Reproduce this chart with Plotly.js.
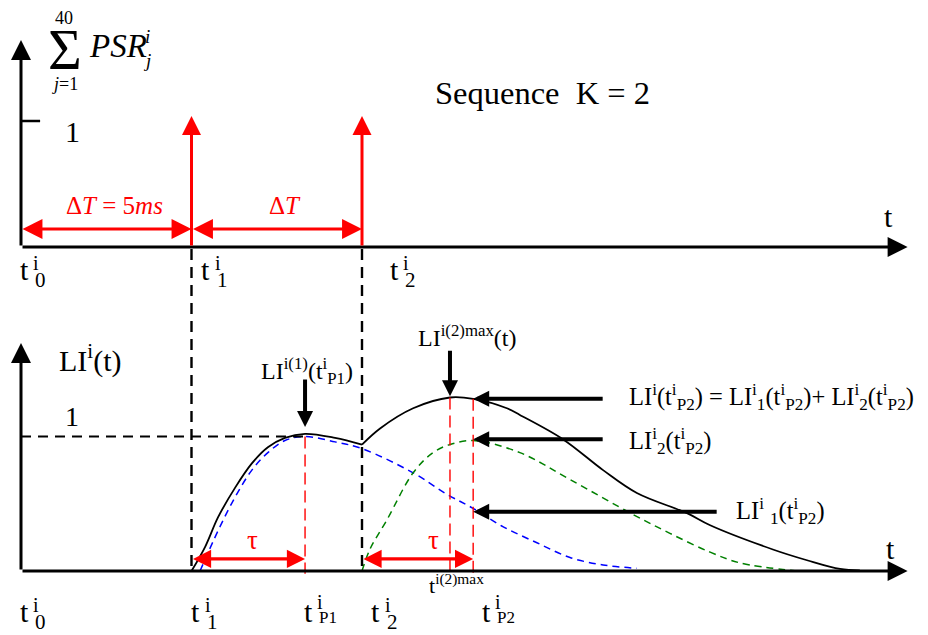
<!DOCTYPE html>
<html><head><meta charset="utf-8">
<script src="https://cdn.plot.ly/plotly-3.0.1.min.js"></script>
<style>html,body{margin:0;padding:0;background:#fff}#chart{width:928px;height:635px}</style>
</head><body><div id="chart"></div>
<script>
// ---- data (time in ms) ----
const startTime = 0;                 // t0
const axisEndTime = 26;              // end of the time axes
const spikeTimes = [5, 10];          // t1, t2
const spikeValues = [1, 1];          // sum of PSR at each spike
const deltaSpans = [[0, 5], [5, 10]];            // ΔT arrows
const markerTimes = [8.33, 12.58, 13.26];        // tP1, t(2)max, tP2
const markerTops = [1.0, 1.29, 1.28];            // LI value at the red guides
const tauSpans = [[5, 8.33], [10, 13.26]];       // τ arrows

// LI(t) total (black)
const tSum  = [5.00,5.40,5.78,6.28,6.77,7.24,7.74,8.33,9.21,10.0,10.53,11.50,12.58,13.26,14.25,14.63,15.89,17.07,18.06,19.53,20.21,22.05,23.05,24.02,24.60];
const liSum = [0,0.18,0.40,0.62,0.80,0.92,0.99,1.02,0.99,0.94,1.06,1.21,1.29,1.28,1.21,1.16,0.98,0.75,0.58,0.43,0.34,0.16,0.08,0.015,0.005];
// LI_1(t) (blue dashed)
const tLI1 = [5.25,5.78,6.28,6.77,7.24,7.74,8.33,9.21,10.0,11.50,12.49,13.23,14.13,15.13,16.10,17.07,18.06];
const li1  = [0,0.30,0.55,0.75,0.88,0.97,1.00,0.96,0.91,0.73,0.57,0.47,0.33,0.21,0.10,0.045,0.02];
// LI_2(t) (green dashed)
const tLI2 = [10.0,10.23,10.73,11.50,12.08,12.58,13.26,14.63,16.10,17.95,19.03,20.21,21.09,22.76];
const li2  = [0,0.16,0.38,0.73,0.88,0.94,0.97,0.88,0.68,0.42,0.28,0.14,0.06,0];
// pointer arrow targets at tP2
const pointerValues = [1.28, 0.98, 0.44];   // LI, LI2, LI1 at tP2

// ---- helpers ----
const FONT = 'Liberation Serif';
const W = 928, H = 635;
const PX = p => p / W, PY = p => 1 - p / H;
function txt(text, x, y, size, opt) {
  opt = opt || {};
  return Object.assign({
    text: text, x: PX(x), y: PY(y), xref: 'paper', yref: 'paper',
    xanchor: 'center', yanchor: 'middle', showarrow: false,
    font: {family: FONT, size: size, color: opt.color || '#000'}
  }, opt.extra || {});
}
function arrow(x, y, ax, ay, yref, color, width, size, both, pixel) {
  return {
    x: x, y: y, ax: ax, ay: ay, xref: 'x', yref: yref,
    axref: pixel ? 'pixel' : 'x', ayref: pixel ? 'pixel' : yref,
    text: '', showarrow: true, arrowhead: 2, arrowsize: size, arrowwidth: width,
    arrowcolor: color, standoff: 0, startstandoff: 0,
    arrowside: both ? 'end+start' : 'end', startarrowhead: 2, startarrowsize: size
  };
}
function tLabel(tx, cy, sub, subLeft, subSize, subDy, iDy) {
  return [
    txt('t', tx, cy, 30),
    txt('i', subLeft + 2.5, cy + (iDy || -6), 20),
    txt(sub, subLeft, cy + (subDy || 11), subSize || 21, {extra: {xanchor: 'left'}})
  ];
}

// ---- traces ----
const traces = [];
const i2 = tSum.indexOf(spikeTimes[1]);
traces.push({x: tLI1, y: li1, mode: 'lines', line: {color: '#0000ff', width: 1.5, dash: '7px,5px', shape: 'spline'}});
traces.push({x: tLI2, y: li2, mode: 'lines', line: {color: '#008000', width: 1.5, dash: '7px,5px', shape: 'spline'}});
traces.push({x: tSum.slice(0, i2 + 1), y: liSum.slice(0, i2 + 1), mode: 'lines', line: {color: '#000', width: 1.8, shape: 'spline'}});
traces.push({x: tSum.slice(i2), y: liSum.slice(i2), mode: 'lines', line: {color: '#000', width: 1.8, shape: 'spline'}});
// red guides at tP1, t(2)max, tP2
markerTimes.forEach((t, k) => {
  traces.push({x: [t, t], y: [markerTops[k], -0.02], mode: 'lines', line: {color: '#ff0000', width: 1.4, dash: '12px,6px'}});
});
// dashed LI = 1 guide
traces.push({x: [startTime, markerTimes[0]], y: [1, 1], mode: 'lines', line: {color: '#000', width: 2.2, dash: '10px,7px'}});
// top tick at 1
traces.push({x: [startTime, 0.56], y: [spikeValues[0], spikeValues[0]], yaxis: 'y2', mode: 'lines', line: {color: '#000', width: 2.5}});
traces.forEach(t => { t.hoverinfo = 'skip'; });

// dashed verticals through t1, t2 (from top baseline to bottom baseline)
const shapes = spikeTimes.map(t => ({
  type: 'line', xref: 'x', yref: 'paper', x0: t, x1: t, y0: PY(249), y1: PY(571),
  line: {color: '#000', width: 2.4, dash: '11px,7px'}
}));

// ---- annotations ----
const ann = [];
// axes
ann.push(arrow(axisEndTime, 0, startTime, 0, 'y2', '#000', 3, 1.33));
ann.push(arrow(startTime, 1.643, startTime, 0, 'y2', '#000', 3, 1.33));
ann.push(arrow(axisEndTime, 0, startTime, 0, 'y', '#000', 3, 1.33));
ann.push(arrow(startTime, 1.695, startTime, 0, 'y', '#000', 3, 1.33));
// red spikes
spikeTimes.forEach((t, k) => ann.push(arrow(t, spikeValues[k] + 0.04, t, 0, 'y2', '#ff0000', 3, 1.27)));
// ΔT arrows
deltaSpans.forEach(s => ann.push(arrow(s[1], 0.143, s[0], 0.143, 'y2', '#ff0000', 3, 1.33, true)));
// τ arrows
tauSpans.forEach(s => ann.push(arrow(s[1], 0.09, s[0], 0.09, 'y', '#ff0000', 3.3, 1.1, true)));
// pointer arrows
ann.push(arrow(markerTimes[0], markerTops[0] + 0.07, 0, -49, 'y', '#000', 4, 0.8, false, true));
ann.push(arrow(markerTimes[1], markerTops[1] + 0.01, 0, -47, 'y', '#000', 4, 0.8, false, true));
ann.push(arrow(markerTimes[2], pointerValues[0], 131, 0, 'y', '#000', 4, 0.8, false, true));
ann.push(arrow(markerTimes[2], pointerValues[1], 131, 0, 'y', '#000', 4, 0.8, false, true));
ann.push(arrow(markerTimes[2], pointerValues[2], 245, 0, 'y', '#000', 4, 0.8, false, true));

// texts - top panel
ann.push(txt('\u03A3', 65, 49, 58));
ann.push(txt('40', 64, 18, 18));
ann.push(txt('<i>j</i>=1', 65, 84, 18));
ann.push(txt('<i>PSR</i>', 87, 46, 33, {extra: {xanchor: 'left'}}));
ann.push(txt('<i>i</i>', 147, 37, 19));
ann.push(txt('<i>j</i>', 147, 60, 19));
ann.push(txt('1', 72, 131, 30));
ann.push(txt('Sequence\u00a0 K = 2', 433, 93, 32.5, {extra: {xanchor: 'left'}}));
ann.push(txt('\u0394<i>T</i> = 5<i>ms</i>', 114, 205, 25, {color: '#ff0000'}));
ann.push(txt('\u0394<i>T</i>', 285, 205, 25, {color: '#ff0000'}));
ann.push(txt('t', 888, 216, 30));
tLabel(24.5, 269, '0', 33).forEach(a => ann.push(a));
tLabel(205.5, 269, '1', 215).forEach(a => ann.push(a));
tLabel(394.5, 269, '2', 403).forEach(a => ann.push(a));
// texts - bottom panel
ann.push(txt('LI<sup>i</sup>(t)', 57, 359, 30, {extra: {xanchor: 'left'}}));
ann.push(txt('1', 72, 416, 28));
ann.push(txt('LI<sup>i(1)</sup>(t<sup>i</sup><sub>P1</sub>)', 259, 371, 24, {extra: {xanchor: 'left'}}));
ann.push(txt('LI<sup>i(2)max</sup>(t)', 416, 336, 24, {extra: {xanchor: 'left'}}));
ann.push(txt('LI<sup>i</sup>(t<sup>i</sup><sub>P2</sub>) = LI<sup>i</sup><sub>1</sub>(t<sup>i</sup><sub>P2</sub>)+ LI<sup>i</sup><sub>2</sub>(t<sup>i</sup><sub>P2</sub>)', 627, 397, 24.5, {extra: {xanchor: 'left'}}));
ann.push(txt('LI<sup>i</sup><sub>2</sub>(t<sup>i</sup><sub>P2</sub>)', 627, 441, 24.5, {extra: {xanchor: 'left'}}));
ann.push(txt('LI<sup>i</sup> <sub>1</sub>(t<sup>i</sup><sub>P2</sub>)', 734, 511, 24.5, {extra: {xanchor: 'left'}}));
ann.push(txt('t', 890, 548, 30));
ann.push(txt('\u03C4', 253, 540, 27, {color: '#ff0000'}));
ann.push(txt('\u03C4', 433, 540, 27, {color: '#ff0000'}));
tLabel(24.5, 611, '0', 33).forEach(a => ann.push(a));
tLabel(195.5, 611, '1', 205).forEach(a => ann.push(a));
tLabel(308.5, 611, 'P1', 317, 17, 6, -9).forEach(a => ann.push(a));
tLabel(375.5, 611, '2', 385).forEach(a => ann.push(a));
tLabel(486.5, 611, 'P2', 495, 17, 6, -9).forEach(a => ann.push(a));
ann.push(txt('t<sup>i(2)max</sup>', 427, 584, 22, {extra: {xanchor: 'left'}}));

// ---- layout ----
const layout = {
  width: W, height: H, margin: {l: 0, r: 0, t: 0, b: 0},
  paper_bgcolor: '#fff', plot_bgcolor: '#fff', showlegend: false,
  xaxis: {range: [-21 / 34.1, 907 / 34.1], visible: false, fixedrange: true},
  yaxis: {range: [-64 / 134.5, 571 / 134.5], visible: false, fixedrange: true},
  yaxis2: {range: [-388 / 126, 247 / 126], visible: false, overlaying: 'y', fixedrange: true},
  shapes: shapes, annotations: ann,
  font: {family: FONT}
};
Plotly.newPlot('chart', traces, layout, {displayModeBar: false, staticPlot: true});
</script></body></html>
